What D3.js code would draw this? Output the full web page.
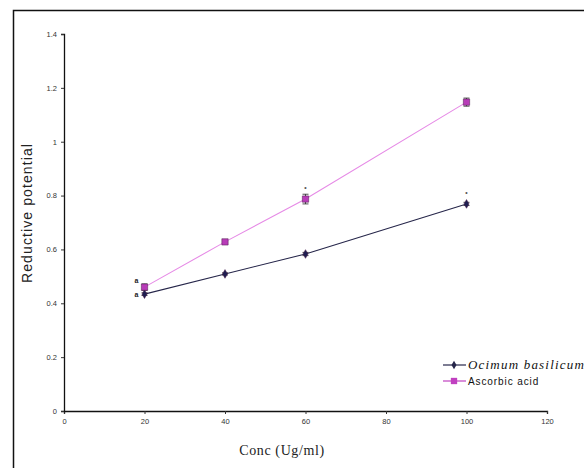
<!DOCTYPE html>
<html>
<head>
<meta charset="utf-8">
<script src="https://cdn.jsdelivr.net/npm/d3@7"></script>
<style>
  body { margin: 0; background: #fff; }
  svg { display: block; }
</style>
</head>
<body>
<svg id="chart" width="584" height="468"></svg>
<script>
// concentrations
const conc = [20, 40, 60, 100];
const ocimumValues = [0.434, 0.509, 0.583, 0.769];
const ascorbicValues = [0.46, 0.628, 0.787, 1.147];
const ocimumErrors = [0.005, 0.004, 0.006, 0.006];
const ascorbicErrors = [0.012, 0.006, 0.018, 0.015];
const ocimumMarks = ['a', '', '', '*'];
const ascorbicMarks = ['a', '', '*', ''];
const xTicks = [0, 20, 40, 60, 80, 100, 120];
const yTicks = [0, 0.2, 0.4, 0.6, 0.8, 1, 1.2, 1.4];

const svg = d3.select('#chart');

// outer frame (only top and left edges show)
svg.append('path')
    .attr('d', 'M13.5,468 L13.5,10.5 L584,10.5')
    .attr('fill', 'none')
    .attr('stroke', '#111')
    .attr('stroke-width', 1.5);

const xScale = d3.scaleLinear().domain([0, 120]).range([64, 547]);
const yScale = d3.scaleLinear().domain([0, 1.4]).range([411, 34]);

const xAxisG = svg.append('g').attr('class', 'xAxisG')
    .attr('transform', 'translate(0,411)')
    .call(d3.axisBottom(xScale).tickValues(xTicks).tickSize(3).tickPadding(5).tickFormat(d3.format('d')));

const yAxisG = svg.append('g').attr('class', 'yAxisG')
    .attr('transform', 'translate(64,0)')
    .call(d3.axisLeft(yScale).tickValues(yTicks).tickSize(3).tickPadding(4).tickFormat(d => d3.format('')(+d.toFixed(1))));

//style both axes together
[xAxisG, yAxisG].forEach(g => {
    g.select('.domain').attr('stroke', '#111').attr('stroke-width', 1.3);
    g.selectAll('.tick line').attr('stroke', '#333');
    g.selectAll('text')
        .style('font-family', 'Arial, "Liberation Sans", sans-serif')
        .style('font-size', '7.5px')
        .attr('fill', '#333');
});

// axis titles
svg.append('text')
    .attr('transform', 'translate(32,213) rotate(-90)')
    .attr('text-anchor', 'middle')
    .style('font-family', 'Arial, "Liberation Sans", sans-serif')
    .style('font-size', '14px')
    .style('letter-spacing', '1.1px')
    .attr('fill', '#222')
    .text('Reductive potential');

svg.append('text')
    .attr('x', 282).attr('y', 455)
    .attr('text-anchor', 'middle')
    .style('font-family', '"Liberation Serif", "DejaVu Serif", serif')
    .style('font-size', '14px')
    .style('letter-spacing', '0.6px')
    .attr('fill', '#222')
    .text('Conc (Ug/ml)');

const series = [
    { name: 'Ocimum basilicum', values: ocimumValues, errors: ocimumErrors, marks: ocimumMarks, stroke: '#26264a', fill: '#1e1e50', legendColor: '#26264a', shape: d3.symbolDiamond, size: 22, italic: true, firstMarkDy: 3 },
    { name: 'Ascorbic acid', values: ascorbicValues, errors: ascorbicErrors, marks: ascorbicMarks, stroke: '#e68ae6', fill: '#b83cb8', legendColor: '#c040c0', shape: d3.symbolSquare, size: 40, italic: false, firstMarkDy: -4 }
];

series.forEach(s => {
    const pts = conc.map((c, i) => ({ x: c, y: s.values[i], e: s.errors[i], m: s.marks[i] }));
    svg.append('path')
        .datum(pts)
        .attr('d', d3.line().x(d => xScale(d.x)).y(d => yScale(d.y)))
        .attr('fill', 'none')
        .attr('stroke', s.stroke)
        .attr('stroke-width', 1.1);

    // small error bars
    const errG = svg.selectAll(null)
        .data(pts)
        .enter()
        .append('g')
            .attr('transform', d => 'translate(' + xScale(d.x) + ',0)');
    errG.append('path')
        .attr('d', d => {
            const y0 = yScale(d.y - d.e), y1 = yScale(d.y + d.e);
            return 'M-3,' + y0 + 'H3M0,' + y0 + 'V' + y1 + 'M-3,' + y1 + 'H3';
        })
        .attr('fill', 'none')
        .attr('stroke', '#222')
        .attr('stroke-width', 0.8);

    svg.selectAll(null)
        .data(pts)
        .enter()
        .append('path')
            .attr('transform', d => 'translate(' + xScale(d.x) + ',' + yScale(d.y) + ')')
            .attr('d', d3.symbol().type(s.shape).size(s.size))
            .attr('fill', s.fill)
            .attr('stroke', '#4a1a4a')
            .attr('stroke-width', 0.5);

    // significance marks
    svg.selectAll(null)
        .data(pts.filter(d => d.m !== ''))
        .enter()
        .append('text')
            .attr('x', d => d.x === 20 ? xScale(d.x) - 8 : xScale(d.x))
            .attr('y', d => d.x === 20 ? yScale(d.y) + s.firstMarkDy : yScale(d.y) - 8)
            .attr('text-anchor', 'middle')
            .style('font-family', 'Arial, sans-serif')
            .style('font-size', d => d.x === 20 ? '7px' : '6px')
            .style('font-weight', 'bold')
            .attr('fill', '#222')
            .text(d => d.m);
});

// legend
const legend = svg.append('g').attr('transform', 'translate(443,365)');
series.forEach((s, i) => {
    const row = legend.append('g').attr('transform', 'translate(0,' + (i * 16) + ')');
    row.append('line')
        .attr('x1', 0).attr('x2', 23)
        .attr('stroke', s.legendColor)
        .attr('stroke-width', 1.2);
    row.append('path')
        .attr('transform', 'translate(11,0)')
        .attr('d', d3.symbol().type(s.shape).size(s.size))
        .attr('fill', s.legendColor);
    row.append('text')
        .attr('x', 25).attr('y', 4)
        .style('font-family', s.italic ? '"Liberation Serif", serif' : 'Arial, "Liberation Sans", sans-serif')
        .style('font-style', s.italic ? 'italic' : 'normal')
        .style('font-size', s.italic ? '13px' : '10px')
        .style('letter-spacing', s.italic ? '1.2px' : '0.9px')
        .attr('fill', '#111')
        .text(s.name);
});
</script>
</body>
</html>
